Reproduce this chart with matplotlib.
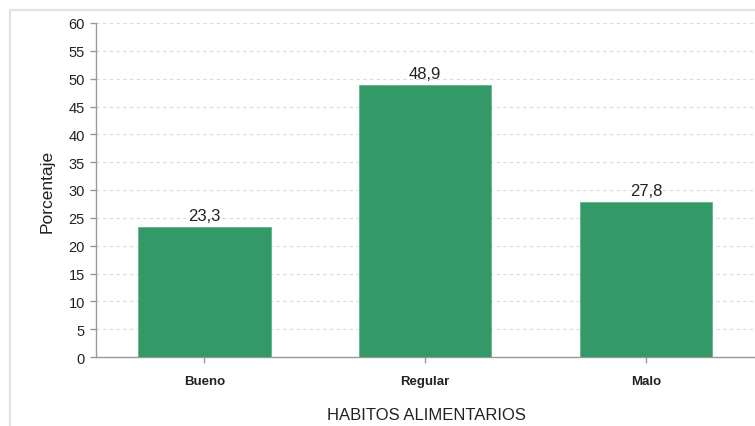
# grafico de barras: habitos alimentarios (porcentaje)

import matplotlib.pyplot as plt
from matplotlib.patches import Rectangle
import numpy as np

plt.rcParams['font.family'] = ['Liberation Sans', 'DejaVu Sans']

categorias = ["Bueno", "Regular", "Malo"]
porcentajes = [23.3, 48.9, 27.8]
etiquetas = ["23,3", "48,9", "27,8"]
yticks = np.arange(0, 61, 5)

W, H = 755, 427
fig = plt.figure(figsize=(W / 100, H / 100), dpi=100)
fig.patch.set_facecolor("white")

# marco exterior gris claro
fig.patches.append(Rectangle((10 / W, -0.1), 1.2, 1.1 - 11 / H, transform=fig.transFigure,
                             fill=False, edgecolor="#e3e3e3", linewidth=1.6))

ax = fig.add_axes([96 / W, 1 - 358 / H, 1 - 96 / W + 0.002, (358 - 24) / H])
x = np.arange(len(categorias))
barras = ax.bar(x, porcentajes, width=0.6, color="#339966", edgecolor="#5fb58a",
                linewidth=0.6, zorder=3)

for b, t in zip(barras, etiquetas):
    ax.annotate(t, (b.get_x() + b.get_width() / 2, b.get_height()),
                xytext=(0, 3), textcoords="offset points",
                ha="center", va="bottom", fontsize=12, color="#222222")

ax.set_xlim(-0.49, 2.5)
ax.set_ylim(0, 60)
ax.set_yticks(yticks)
ax.set_xticks(x)
ax.set_xticklabels(categorias, fontsize=9.5, fontweight="bold", color="#222222")
ax.tick_params(axis="y", labelsize=10.5, colors="#999999", labelcolor="#222222",
               length=4, width=1, pad=4)
ax.tick_params(axis="x", colors="#999999", labelcolor="#222222",
               length=4, width=1, pad=9)

ax.grid(axis="y", linestyle=(0, (3, 3)), color="#dadada", linewidth=0.8, zorder=0)
ax.set_axisbelow(True)

for s in ["top", "right"]:
    ax.spines[s].set_visible(False)
for s in ["left", "bottom"]:
    ax.spines[s].set_color("#999999")
    ax.spines[s].set_linewidth(1)

ax.set_ylabel("Porcentaje", fontsize=12.5, color="#222222", labelpad=10)
ax.set_xlabel("HABITOS ALIMENTARIOS", fontsize=12, color="#222222", labelpad=14)

plt.savefig("out.png", dpi=100)
